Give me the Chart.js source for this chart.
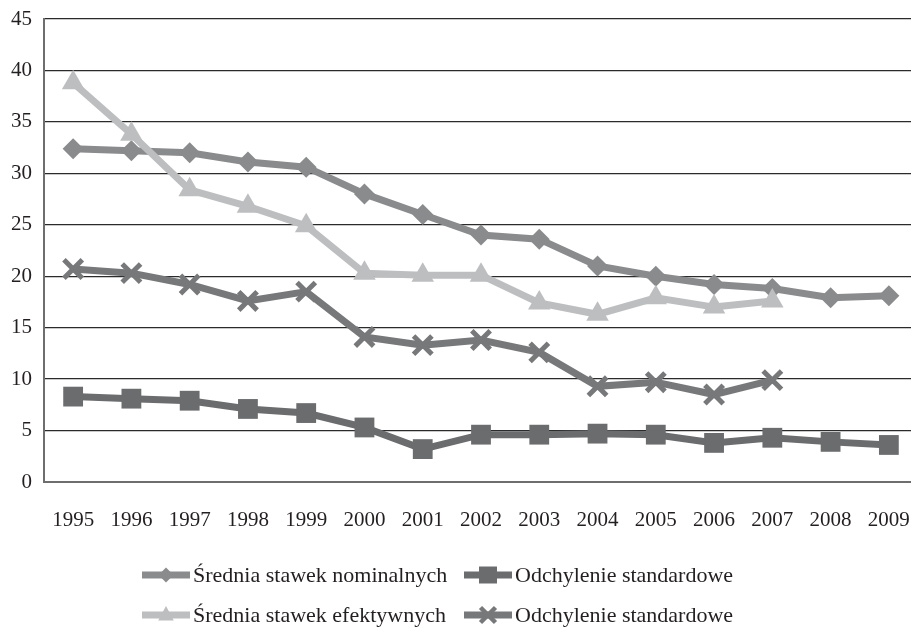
<!DOCTYPE html>
<html lang="pl">
<head>
<meta charset="utf-8">
<title>Średnie stawki celne i odchylenie standardowe 1995–2009</title>
<script src="https://cdn.jsdelivr.net/npm/chart.js@4/dist/chart.umd.min.js"></script>
<style>
  html, body { margin: 0; padding: 0; background: #ffffff; overflow: hidden; }
  #wrap { width: 918px; height: 629px; }
</style>
</head>
<body>
<div id="wrap"><canvas id="chart" width="918" height="629"></canvas></div>
<script>
// Years on the horizontal axis
const years = ['1995','1996','1997','1998','1999','2000','2001','2002','2003','2004','2005','2006','2007','2008','2009'];

// Average nominal rates (diamonds)
const nominalMean = [32.4, 32.2, 32.0, 31.1, 30.6, 28.0, 26.0, 24.0, 23.6, 21.0, 20.0, 19.2, 18.8, 17.9, 18.1];
// Standard deviation of nominal rates (squares)
const nominalStd = [8.3, 8.1, 7.9, 7.1, 6.7, 5.3, 3.2, 4.6, 4.6, 4.7, 4.6, 3.8, 4.3, 3.9, 3.6];
// Average effective rates (triangles), no data after 2007
const effectiveMean = [38.8, 33.8, 28.4, 26.8, 24.9, 20.3, 20.1, 20.1, 17.4, 16.3, 17.9, 17.0, 17.6, null, null];
// Standard deviation of effective rates (crosses), no data after 2007
const effectiveStd = [20.7, 20.3, 19.2, 17.6, 18.5, 14.1, 13.3, 13.8, 12.6, 9.3, 9.7, 8.5, 9.9, null, null];

// Series labels
const labelNominalMean = 'Średnia stawek nominalnych';
const labelNominalStd = 'Odchylenie standardowe';
const labelEffectiveMean = 'Średnia stawek efektywnych';
const labelEffectiveStd = 'Odchylenie standardowe';

// Value axis range
const yMin = 0, yMax = 45, yStep = 5;

const FONT = "'Liberation Serif', 'DejaVu Serif', serif";
const TEXT = '#231f20';

const C_NOM = '#8a8b8d';
const C_NOMSTD = '#6b6c6e';
const C_EFF = '#bdbec0';
const C_EFFSTD = '#77787a';

function series(label, data, color, style, radius, extra) {
  return Object.assign({
    label: label,
    data: data,
    borderColor: color,
    backgroundColor: color,
    borderWidth: 7,
    pointStyle: style,
    pointRadius: radius,
    pointHoverRadius: radius,
    pointBackgroundColor: color,
    pointBorderColor: color,
    pointBorderWidth: 0,
    tension: 0,
    spanGaps: false,
    fill: false
  }, extra || {});
}

// Small legend glyph: a short thick line with the series marker in the middle
function drawLegendMarker(ctx, style, x, y, color) {
  ctx.save();
  ctx.fillStyle = color;
  ctx.strokeStyle = color;
  ctx.beginPath();
  if (style === 'rectRot') {
    const r = 7.5;
    ctx.moveTo(x, y - r); ctx.lineTo(x + r, y); ctx.lineTo(x, y + r); ctx.lineTo(x - r, y);
    ctx.closePath(); ctx.fill();
  } else if (style === 'rect') {
    const s = 9;
    ctx.rect(x - s, y - s + 0.5, 2 * s, 2 * s - 1);
    ctx.fill();
  } else if (style === 'triangle') {
    const r = 9;
    ctx.moveTo(x, y - r);
    ctx.lineTo(x + r * 0.866, y + r * 0.5 + 1);
    ctx.lineTo(x - r * 0.866, y + r * 0.5 + 1);
    ctx.closePath(); ctx.fill();
  } else if (style === 'crossRot') {
    const d = 7.5;
    ctx.lineWidth = 4.5;
    ctx.moveTo(x - d, y - d); ctx.lineTo(x + d, y + d);
    ctx.moveTo(x - d, y + d); ctx.lineTo(x + d, y - d);
    ctx.stroke();
  }
  ctx.restore();
}

// Two-column legend under the x axis
const gridLegend = {
  id: 'gridLegend',
  afterDraw(chart, args, opts) {
    const ctx = chart.ctx;
    const ds = chart.data.datasets;
    ctx.save();
    ctx.font = opts.fontSize + 'px ' + FONT;
    ctx.textBaseline = 'middle';
    ctx.textAlign = 'left';
    opts.cells.forEach(cell => {
      const d = ds[cell.index];
      const x0 = opts.columns[cell.col];
      const y = opts.rows[cell.row];
      ctx.strokeStyle = d.borderColor;
      ctx.lineWidth = 7;
      ctx.lineCap = 'butt';
      ctx.beginPath();
      ctx.moveTo(x0, y);
      ctx.lineTo(x0 + opts.symbolWidth, y);
      ctx.stroke();
      drawLegendMarker(ctx, d.pointStyle, x0 + opts.symbolWidth / 2, y, d.borderColor);
      ctx.fillStyle = TEXT;
      ctx.fillText(d.label, x0 + opts.symbolWidth + opts.gap, y + 1);
    });
    ctx.restore();
  }
};

const datasets = [
  series(labelEffectiveMean, effectiveMean, C_EFF, 'triangle', 13),
  series(labelNominalMean, nominalMean, C_NOM, 'rectRot', 10.5),
  series(labelNominalStd, nominalStd, C_NOMSTD, 'rect', 14),
  series(labelEffectiveStd, effectiveStd, C_EFFSTD, 'crossRot', 13, { pointBorderWidth: 5 })
];

new Chart(document.getElementById('chart'), {
  type: 'line',
  data: { labels: years, datasets: datasets },
  plugins: [gridLegend],
  options: {
    responsive: false,
    animation: false,
    devicePixelRatio: 1,
    // markers may overhang the plot; keep the plot area fixed
    layout: { autoPadding: false, padding: { top: 19, right: 0, bottom: 0, left: 0 } },
    plugins: {
      legend: { display: false },
      tooltip: { enabled: false },
      gridLegend: {
        fontSize: 22,
        symbolWidth: 48,
        gap: 3,
        columns: [142, 464],
        rows: [575, 615],
        cells: [
          { index: 1, col: 0, row: 0 },
          { index: 2, col: 1, row: 0 },
          { index: 0, col: 0, row: 1 },
          { index: 3, col: 1, row: 1 }
        ]
      }
    },
    scales: {
      x: {
        type: 'category',
        offset: true,
        grid: { display: false, drawTicks: false },
        border: { display: true, color: '#6e6e6e', width: 2 },
        ticks: {
          color: TEXT,
          // tall line box keeps the labels low without a large tick padding
          font: { family: FONT, size: 21, lineHeight: 3.1 },
          padding: 6,
          maxRotation: 0,
          autoSkip: false
        },
        afterFit(scale) { scale.height = 147; }
      },
      y: {
        min: yMin,
        max: yMax,
        grid: { color: '#2b2b2b', lineWidth: 1.3, drawTicks: false },
        border: { display: true, color: '#6e6e6e', width: 2 },
        ticks: {
          stepSize: yStep,
          color: TEXT,
          font: { family: FONT, size: 21, lineHeight: 0.6 },
          padding: 12
        },
        afterFit(scale) { scale.width = 44; }
      }
    }
  }
});
</script>
</body>
</html>
